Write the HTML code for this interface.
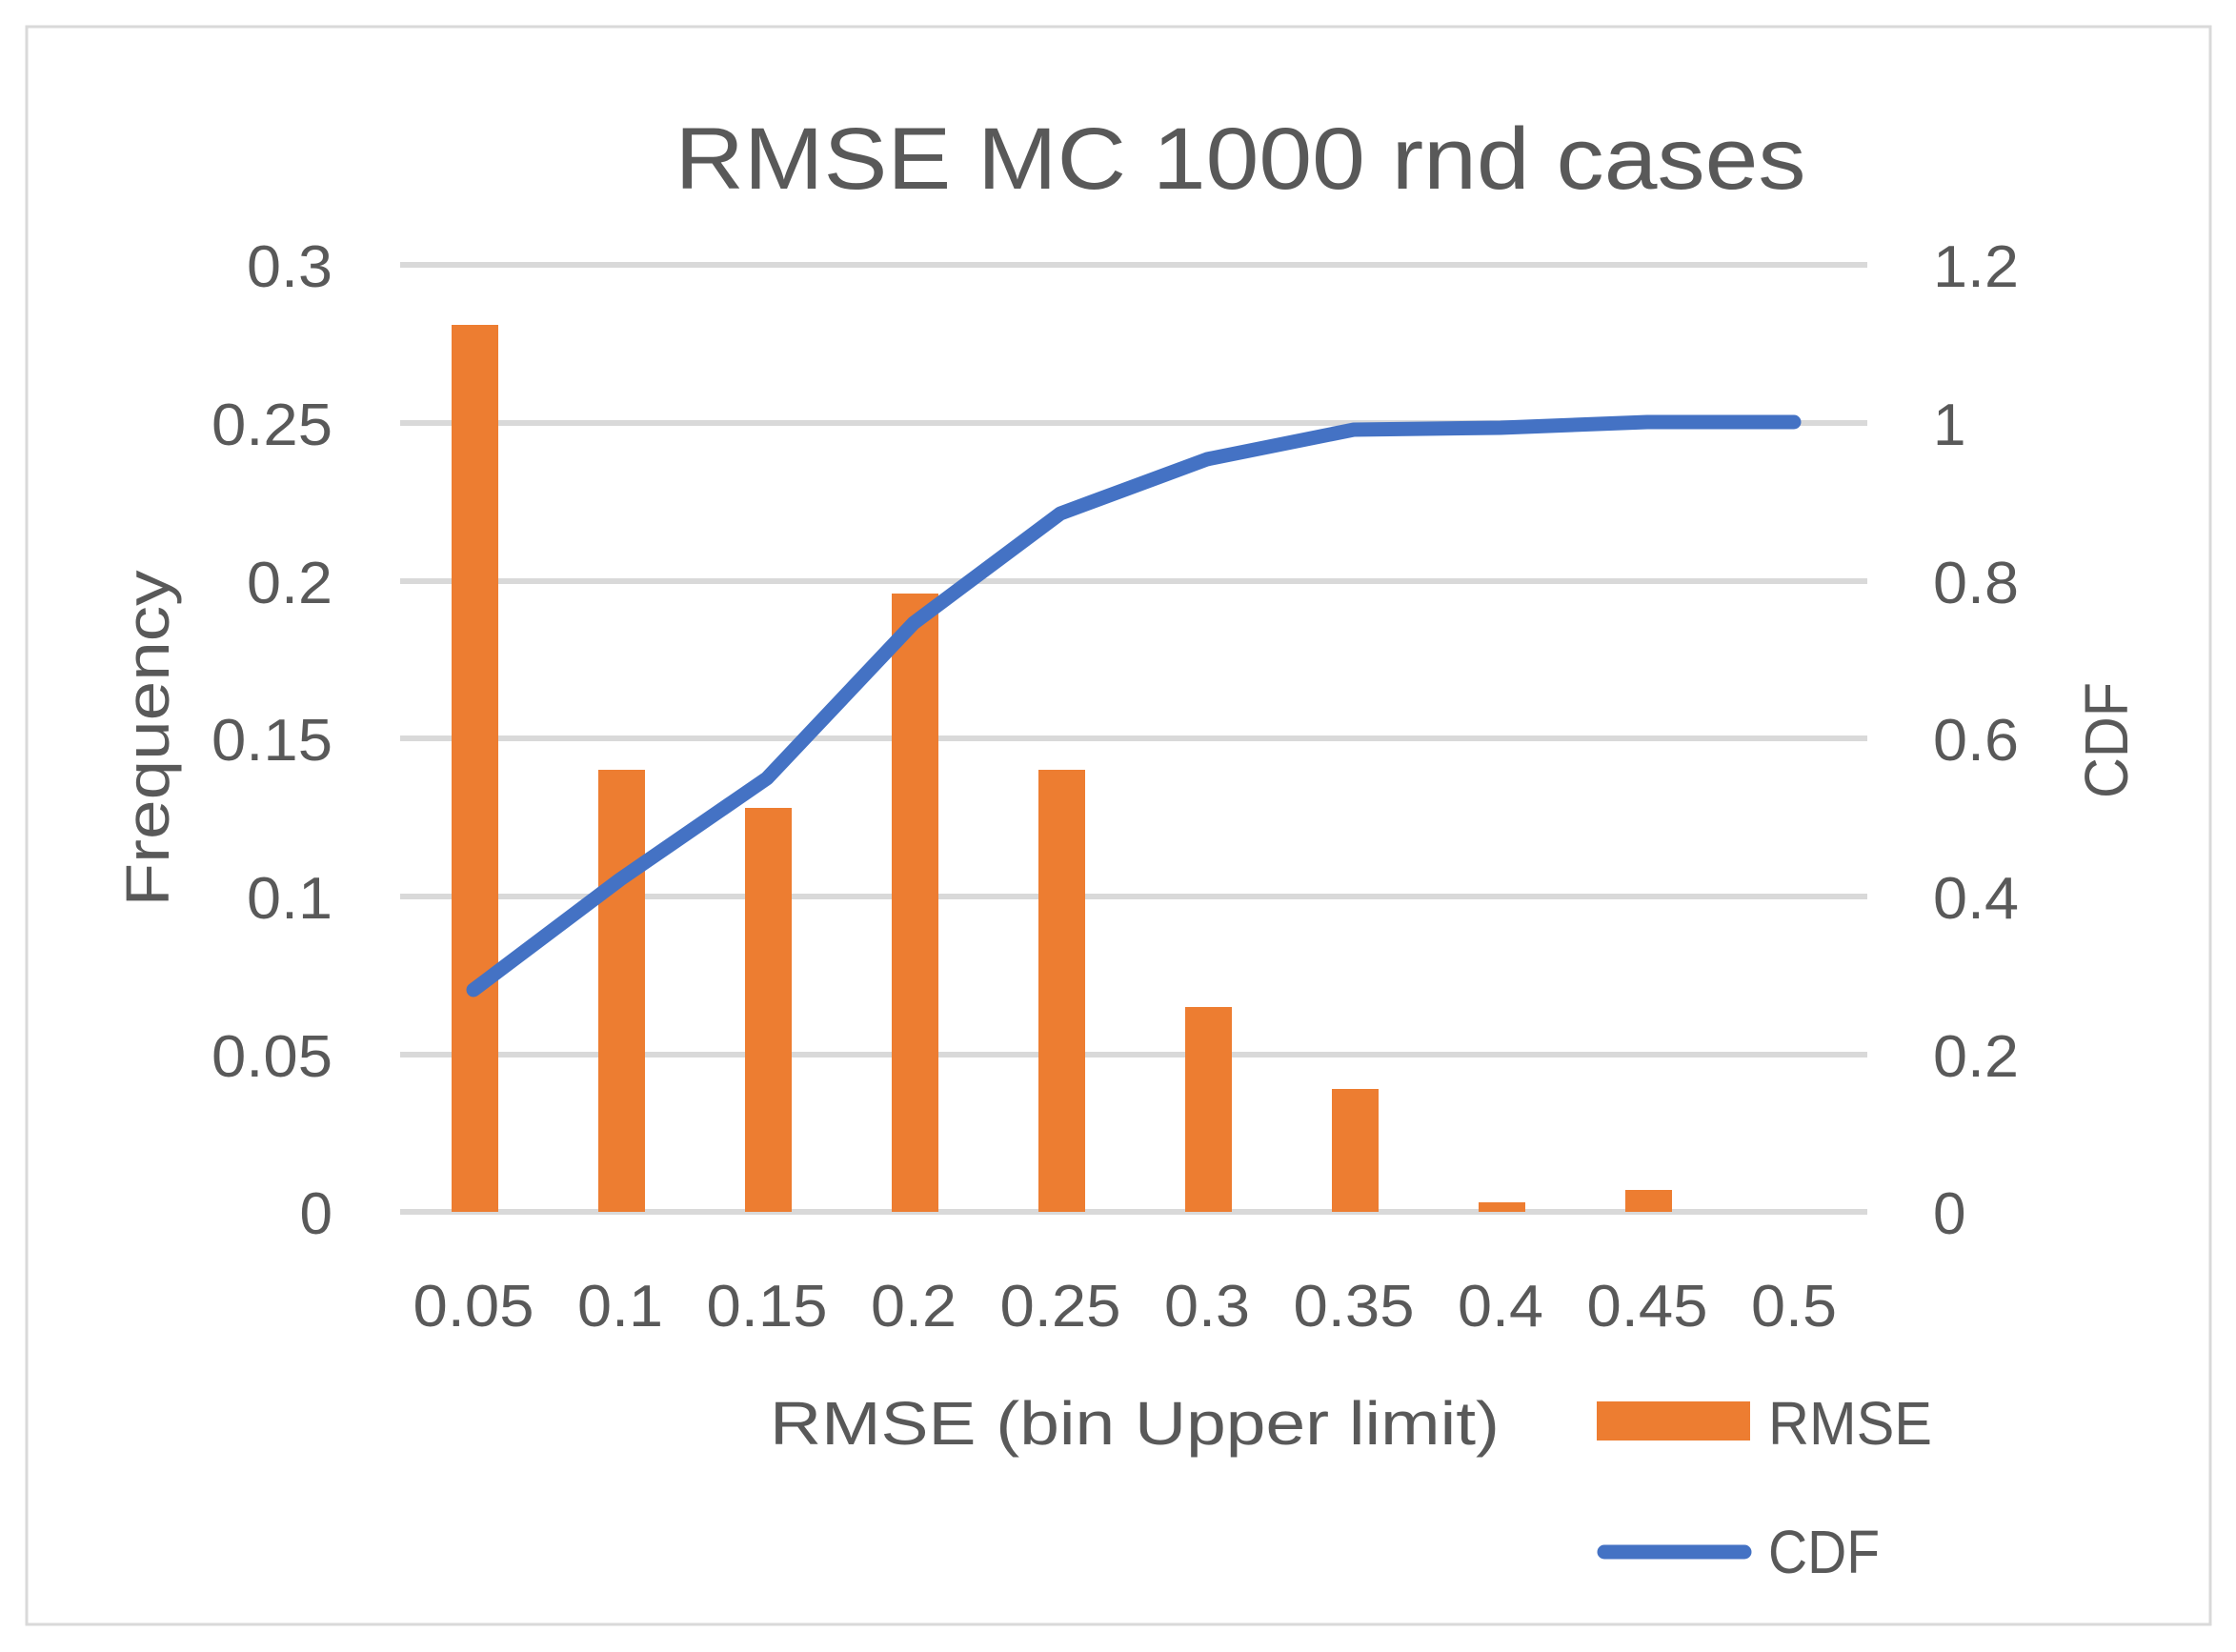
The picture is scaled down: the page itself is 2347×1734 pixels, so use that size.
<!DOCTYPE html>
<html><head><meta charset="utf-8"><style>
html,body{margin:0;padding:0;background:#fff;}
svg{display:block;}
text{font-family:"Liberation Sans",sans-serif;fill:#595959;}
</style></head><body>
<svg width="2347" height="1734" viewBox="0 0 2347 1734" xmlns="http://www.w3.org/2000/svg">
<rect x="0" y="0" width="2347" height="1734" fill="#fff"/>
<rect x="28" y="28" width="2292" height="1677" fill="none" stroke="#d9d9d9" stroke-width="3"/>
<text x="1302" y="198" font-size="92" text-anchor="middle" textLength="1187" lengthAdjust="spacingAndGlyphs">RMSE MC 1000 rnd cases</text>
<g stroke="#d9d9d9" stroke-width="6">
<line x1="420" x2="1960" y1="278" y2="278"/>
<line x1="420" x2="1960" y1="444" y2="444"/>
<line x1="420" x2="1960" y1="610" y2="610"/>
<line x1="420" x2="1960" y1="775" y2="775"/>
<line x1="420" x2="1960" y1="941" y2="941"/>
<line x1="420" x2="1960" y1="1107" y2="1107"/>
<line x1="420" x2="1960" y1="1272" y2="1272"/>
</g>
<g fill="#ed7d31">
<rect x="474" y="341" width="49" height="931"/>
<rect x="628" y="808" width="49" height="464"/>
<rect x="782" y="848" width="49" height="424"/>
<rect x="936" y="623" width="49" height="649"/>
<rect x="1090" y="808" width="49" height="464"/>
<rect x="1244" y="1057" width="49" height="215"/>
<rect x="1398" y="1143" width="49" height="129"/>
<rect x="1552" y="1262" width="49" height="10"/>
<rect x="1706" y="1249" width="49" height="23"/>
</g>
<polyline fill="none" stroke="#4472c4" stroke-width="15" stroke-linecap="round" stroke-linejoin="round"
 points="497,1039 651,923 805,817 959,654 1113,539 1267,482 1421,451 1575,449 1729,443 1883,443"/>
<g font-size="62" text-anchor="end">
<text x="349" y="301" textLength="90" lengthAdjust="spacingAndGlyphs">0.3</text>
<text x="349" y="467" textLength="127" lengthAdjust="spacingAndGlyphs">0.25</text>
<text x="349" y="633" textLength="90" lengthAdjust="spacingAndGlyphs">0.2</text>
<text x="349" y="798" textLength="127" lengthAdjust="spacingAndGlyphs">0.15</text>
<text x="349" y="964" textLength="90" lengthAdjust="spacingAndGlyphs">0.1</text>
<text x="349" y="1130" textLength="127" lengthAdjust="spacingAndGlyphs">0.05</text>
<text x="349" y="1295">0</text>
</g>
<g font-size="62" text-anchor="start">
<text x="2029" y="301" textLength="90" lengthAdjust="spacingAndGlyphs">1.2</text>
<text x="2029" y="467">1</text>
<text x="2029" y="633" textLength="90" lengthAdjust="spacingAndGlyphs">0.8</text>
<text x="2029" y="798" textLength="90" lengthAdjust="spacingAndGlyphs">0.6</text>
<text x="2029" y="964" textLength="90" lengthAdjust="spacingAndGlyphs">0.4</text>
<text x="2029" y="1130" textLength="90" lengthAdjust="spacingAndGlyphs">0.2</text>
<text x="2029" y="1295">0</text>
</g>
<g font-size="62" text-anchor="middle">
<text x="497" y="1392" textLength="127" lengthAdjust="spacingAndGlyphs">0.05</text>
<text x="651" y="1392" textLength="90" lengthAdjust="spacingAndGlyphs">0.1</text>
<text x="805" y="1392" textLength="127" lengthAdjust="spacingAndGlyphs">0.15</text>
<text x="959" y="1392" textLength="90" lengthAdjust="spacingAndGlyphs">0.2</text>
<text x="1113" y="1392" textLength="127" lengthAdjust="spacingAndGlyphs">0.25</text>
<text x="1267" y="1392" textLength="90" lengthAdjust="spacingAndGlyphs">0.3</text>
<text x="1421" y="1392" textLength="127" lengthAdjust="spacingAndGlyphs">0.35</text>
<text x="1575" y="1392" textLength="90" lengthAdjust="spacingAndGlyphs">0.4</text>
<text x="1729" y="1392" textLength="127" lengthAdjust="spacingAndGlyphs">0.45</text>
<text x="1883" y="1392" textLength="90" lengthAdjust="spacingAndGlyphs">0.5</text>
</g>
<text x="1191" y="1516" font-size="64" text-anchor="middle" textLength="766" lengthAdjust="spacingAndGlyphs">RMSE (bin Upper limit)</text>
<text transform="translate(177,775) rotate(-90)" font-size="64" text-anchor="middle" textLength="353" lengthAdjust="spacingAndGlyphs">Frequency</text>
<text transform="translate(2233,777) rotate(-90)" font-size="64" text-anchor="middle" textLength="122" lengthAdjust="spacingAndGlyphs">CDF</text>
<rect x="1676" y="1471" width="161" height="41" fill="#ed7d31"/>
<text x="1856" y="1516" font-size="64" textLength="172" lengthAdjust="spacingAndGlyphs">RMSE</text>
<line x1="1684" x2="1831" y1="1629" y2="1629" stroke="#4472c4" stroke-width="15" stroke-linecap="round"/>
<text x="1856" y="1651" font-size="64" textLength="117" lengthAdjust="spacingAndGlyphs">CDF</text>
</svg>
</body></html>
